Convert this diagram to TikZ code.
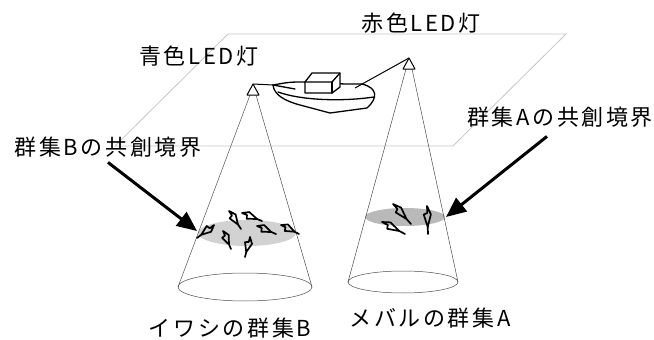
\documentclass[tikz,border=0pt]{standalone}
\usepackage{fontspec}
\newfontfamily\jp[LetterSpace=12]{Noto Sans CJK JP}
\usetikzlibrary{arrows.meta, calc}

\tikzset{
  plane/.style={draw=gray!45, line width=0.8pt},
  conel/.style={draw=black!70, line width=0.5pt},
  lamp/.style={draw=black, line width=1pt, fill=white, line join=round},
  boat/.style={draw=black, line width=1.3pt, line join=round, line cap=round},
  fishline/.style={draw=black, line width=1.7pt, line join=round, line cap=round},
  bigarrow/.style={line width=3pt, -{Triangle[length=20pt, width=17pt]}},
  lab/.style={font=\jp\fontsize{22}{26}\selectfont, inner sep=1pt},
}

% one fish: tail point, head point
\newcommand{\fish}[2]{%
  \draw[fishline] ($#1!0.75!#2$) -- #2
    -- ($#2!0.3!#1!3.6pt!90:#1$) -- ($#2!0.75!#1$)
    -- ($#2!0.3!#1!3.6pt!-90:#1$) -- cycle;
  \draw[fishline] #1 -- ($#2!0.75!#1$);
}

\begin{document}
\begin{tikzpicture}[x=1pt, y=-1pt]
  \useasboundingbox (0,0) rectangle (654,340);

  % --- sea surface ---
  \draw[plane] (115,146) -- (453,146) -- (566,34) -- (228,34) -- cycle;

  % --- light cones and schools ---
  \coordinate (coneB) at (253,95);
  \coordinate (coneA) at (409,69);
  \fill[gray!35] (247,233) ellipse [x radius=49, y radius=13];
  \fill[gray!55] (405,217) ellipse [x radius=40, y radius=9];
  \draw[conel] (250,95) -- (178,287);
  \draw[conel] (256,95) -- (312,287);
  \draw[conel] (245,287) ellipse [x radius=67, y radius=14];
  \draw[conel] (406,69) -- (348,282);
  \draw[conel] (412,69) -- (458,282);
  \draw[conel] (403,282) ellipse [x radius=55, y radius=11];

  % fish of school B
  \fish{(241,229)}{(229,211)}
  \fish{(262,221)}{(242,213)}
  \fish{(197,238)}{(214,225)}
  \fish{(231,249)}{(223,231)}
  \fish{(245,257)}{(250,237)}
  \fish{(276,234)}{(257,226)}
  \fish{(299,234)}{(281,225)}
  % fish of school A
  \fish{(411,224)}{(393,204)}
  \fish{(405,234)}{(382,222)}
  \fish{(428,234)}{(427,206)}

  % --- boat ---
  \draw[boat] (273,85) .. controls (274,95) and (285,101) .. (300,105) -- (330,113) -- (367,108)
              .. controls (378,98) and (378,88) .. (362,84);
  \draw[boat] (273,85) .. controls (290,82) .. (305,82) -- (345,84) -- (362,84);
  \draw[boat] (278,92) .. controls (300,100) and (340,102) .. (374,97);
  \draw[boat] (273,85) -- (295,89);
  \draw[boat, fill=white] (305,82) -- (312,73) -- (340,73) -- (340,87) -- (332,93) -- (305,93) -- cycle;
  \draw[boat] (305,82) -- (332,82) -- (340,73);
  \draw[boat] (332,82) -- (332,93);

  % --- LED lamps ---
  \coordinate (ledB) at (253,84);
  \coordinate (ledA) at (409,58);
  \draw[lamp] (ledB) -- (273,85);
  \draw[lamp] (ledA) -- (355,88);
  \draw[lamp] (ledB) -- ++(-6,11) -- ++(12,0) -- cycle;
  \draw[lamp] (ledA) -- ++(-6,11) -- ++(12,0) -- cycle;

  % --- labels ---
  \node[lab] (ledblue) at (199,56) {青色LED灯};
  \node[lab] (ledred) at (421,23) {赤色LED灯};
  \node[lab] (labB) at (108,147) {群集Bの共創境界};
  \node[lab] (labA) at (560,117) {群集Aの共創境界};
  \node[lab] (grpB) at (230,328) {イワシの群集B};
  \node[lab] (grpA) at (430,318) {メバルの群集A};

  % arrows onto the boundaries
  \coordinate (tipB) at (197,231);
  \coordinate (tipA) at (446,217);
  \draw[bigarrow] ([yshift=-4pt]labB.south) -- (tipB);
  \draw[bigarrow] ([xshift=-13pt, yshift=-8pt]labA.south) -- (tipA);
\end{tikzpicture}
\end{document}
